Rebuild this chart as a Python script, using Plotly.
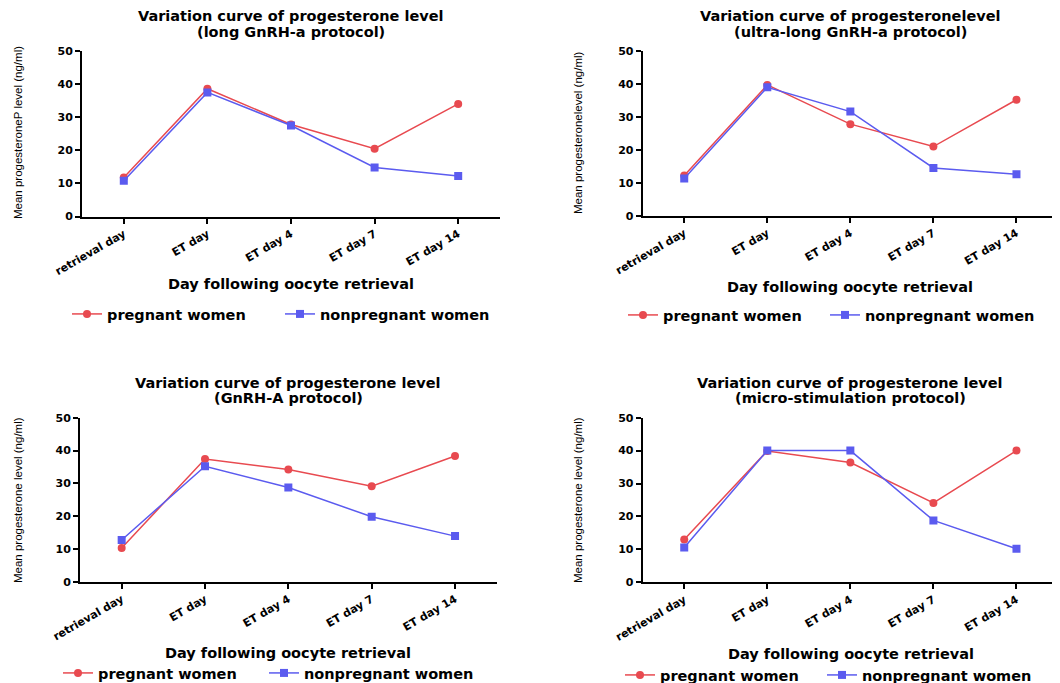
import plotly.graph_objects as go

W, H = 1060, 683
OFF = 8  # page body margin offset of the plot div

days = ["retrieval day", "ET day", "ET day 4", "ET day 7", "ET day 14"]

titles = [
    ("Variation curve of progesterone level", "(long GnRH-a protocol)"),
    ("Variation curve of progesteronelevel", "(ultra-long GnRH-a protocol)"),
    ("Variation curve of progesterone level", "(GnRH-A protocol)"),
    ("Variation curve of progesterone level", "(micro-stimulation protocol)"),
]
ytitles = [
    "Mean progesteroneP level (ng/ml)",
    "Mean progesteronelevel (ng/ml)",
    "Mean progesterone level (ng/ml)",
    "Mean progesterone level (ng/ml)",
]
xtitle = "Day following oocyte retrieval"
series_names = ["pregnant women", "nonpregnant women"]

pregnant_long = [11.8, 38.6, 27.8, 20.5, 34.0]
nonpregnant_long = [10.8, 37.5, 27.5, 14.8, 12.2]
pregnant_ultra = [12.2, 39.7, 27.8, 21.0, 35.2]
nonpregnant_ultra = [11.3, 39.0, 31.6, 14.5, 12.6]
pregnant_antag = [10.3, 37.4, 34.2, 29.1, 38.3]
nonpregnant_antag = [12.7, 35.2, 28.7, 19.8, 13.9]
pregnant_micro = [13.0, 39.9, 36.4, 24.1, 40.0]
nonpregnant_micro = [10.6, 40.0, 40.0, 18.8, 10.2]

panels = [
    (pregnant_long, nonpregnant_long),
    (pregnant_ultra, nonpregnant_ultra),
    (pregnant_antag, nonpregnant_antag),
    (pregnant_micro, nonpregnant_micro),
]

RED = "#E84A50"
BLUE = "#5B5BEF"
FONT = "DejaVu Sans"
YFONT = "Liberation Sans, Arial, sans-serif"

# pixel layout in screen coords: (x0, x1, ytop, ybottom)
boxes = [
    (82, 500, 51, 216.5),
    (642.7, 1058, 51, 215.7),
    (80, 496.7, 417.7, 581.7),
    (642.7, 1058, 417.7, 582.3),
]
title_y = [(16.5, 31.5), (16.5, 31.5), (383.5, 397.5), (383.5, 397.5)]
xtitle_pos = [(291, 284), (850, 287), (288, 653.3), (851, 654)]
ytitle_pos = [(18, 133), (578, 133), (18, 500), (578, 500)]
# legend item left positions (red item, blue item) and row centre y
legend_pos = [((67, 280), 314), ((623, 825), 315), ((58, 264), 673), ((620, 822), 675)]


def px(x):
    return (x - OFF) / W


def py(y):
    return 1 - (y - OFF) / H


fig = go.Figure()
annotations = []
layout = dict(
    width=W, height=H,
    margin=dict(l=0, r=0, t=0, b=0, autoexpand=False),
    paper_bgcolor="white", plot_bgcolor="white",
    showlegend=True,
)

legend_count = 0
for i, (preg, nonpreg) in enumerate(panels):
    n = i + 1
    xa = "x" if n == 1 else f"x{n}"
    ya = "y" if n == 1 else f"y{n}"
    (lx_red, lx_blue), ly = legend_pos[i]
    specs = [
        (preg, series_names[0], RED, "circle", lx_red),
        (nonpreg, series_names[1], BLUE, "square", lx_blue),
    ]
    for vals, name, color, symbol, lx in specs:
        legend_count += 1
        lg = "legend" if legend_count == 1 else f"legend{legend_count}"
        fig.add_trace(go.Scatter(
            x=days, y=vals, mode="lines+markers", name=name,
            line=dict(color=color, width=1.5),
            marker=dict(symbol=symbol, size=8, color=color),
            xaxis=xa, yaxis=ya, legend=lg,
        ))
        layout[lg] = dict(
            orientation="h", x=px(lx), y=py(ly), xanchor="left", yanchor="middle",
            xref="paper", yref="paper",
            font=dict(family=FONT, size=14.5, color="black", weight="bold"),
            bgcolor="rgba(0,0,0,0)", borderwidth=0,
        )
    x0, x1, yt, yb = boxes[i]
    axis_common = dict(
        showline=True, linecolor="black", linewidth=2,
        ticks="outside", ticklen=5, tickwidth=2, tickcolor="black",
        showgrid=False, zeroline=False, automargin=False,
    )
    layout["xaxis" if n == 1 else f"xaxis{n}"] = dict(
        domain=[px(x0), px(x1)], anchor=ya,
        type="category", range=[-0.5, 4.5], tickangle=-30,
        tickfont=dict(family=FONT, size=11, color="black", weight="bold"),
        **axis_common,
    )
    layout["yaxis" if n == 1 else f"yaxis{n}"] = dict(
        domain=[py(yb), py(yt)], anchor=xa,
        range=[0, 50], dtick=10,
        tickfont=dict(family=FONT, size=11, color="black", weight="bold"),
        **axis_common,
    )
    cx = (x0 + x1) / 2
    for line_text, yy in zip(titles[i], title_y[i]):
        annotations.append(dict(
            text=line_text, x=px(cx), y=py(yy), xref="paper", yref="paper",
            xanchor="center", yanchor="middle", showarrow=False,
            font=dict(family=FONT, size=14.5, color="black", weight="bold"),
        ))
    xtx, xty = xtitle_pos[i]
    annotations.append(dict(
        text=xtitle, x=px(xtx), y=py(xty), xref="paper", yref="paper",
        xanchor="center", yanchor="middle", showarrow=False,
        font=dict(family=FONT, size=14.5, color="black", weight="bold"),
    ))
    ytx, yty = ytitle_pos[i]
    annotations.append(dict(
        text=ytitles[i], x=px(ytx), y=py(yty), xref="paper", yref="paper",
        xanchor="center", yanchor="middle", showarrow=False, textangle=-90,
        font=dict(family=YFONT, size=11.5, color="black"),
    ))

layout["annotations"] = annotations
fig.update_layout(**layout)
fig.write_html("out.html")
